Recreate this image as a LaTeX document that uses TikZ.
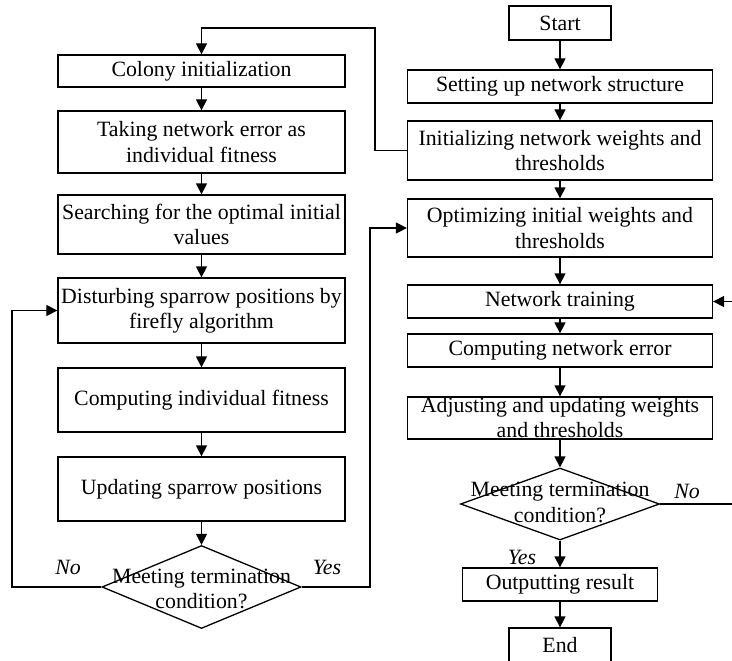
\documentclass[tikz,border=0pt]{standalone}
\usepackage{fontspec}
\setmainfont{Liberation Serif}
\usetikzlibrary{arrows.meta,shapes.geometric}
\newcommand\myfs{\fontsize{21.9}{25.5}\selectfont}
\tikzset{
  box/.style={draw, line width=1.3bp, inner sep=0pt, align=center, font=\myfs, minimum width=305bp, minimum height=33bp},
  lbox/.style={box, minimum width=287bp},
  dec/.style={draw, diamond, line width=1.3bp, inner sep=0pt},
  txt/.style={inner sep=0pt, align=center, font=\myfs},
  lbl/.style={inner sep=0pt, font=\myfs\itshape},
  ln/.style={line width=1.3bp},
  arr/.style={line width=1.3bp, -{Triangle[length=11bp,width=11bp]}},
}
\begin{document}
\begin{tikzpicture}[x=1bp,y=-1bp]
\useasboundingbox (0,0) rectangle (732,661);
% left column
\node[lbox, minimum height=32bp] (col) at (201.5,71) {Colony initialization};
\node[lbox, minimum height=62bp] (take) at (201.5,142) {Taking network error as\\individual fitness};
\node[lbox, minimum height=59bp] (search) at (201.5,224.5) {Searching for the optimal initial\\values};
\node[lbox, minimum height=65bp] (disturb) at (201.5,310.5) {Disturbing sparrow positions by\\firefly algorithm};
\node[lbox, minimum height=64bp] (compind) at (201.5,400) {Computing individual fitness};
\node[lbox, minimum height=64bp] (update) at (201.5,489) {Updating sparrow positions};
\node[dec, minimum width=199bp, minimum height=83bp] (decL) at (201.5,587) {};
\node[txt] (decLt) at (201.5,589) {Meeting termination\\condition?};
% right column
\node[box, minimum width=102bp, minimum height=34bp] (start) at (560,23) {Start};
\node[box] (setup) at (560,86.5) {Setting up network structure};
\node[box, minimum height=59bp] (init) at (560,150.5) {Initializing network weights and\\thresholds};
\node[box, minimum height=58bp] (opt) at (560,228) {Optimizing initial weights and\\thresholds};
\node[box] (train) at (560,301.5) {Network training};
\node[box] (comperr) at (560,350.5) {Computing network error};
\node[box, minimum height=42bp] (adjust) at (560,418) {};
\node[txt] (adjustt) at (560,417.5) {Adjusting and updating weights\\and thresholds};
\node[dec, minimum width=199bp, minimum height=72bp] (decR) at (560,504) {};
\node[txt] (decRt) at (560,502.5) {Meeting termination\\condition?};
\node[box, minimum width=195bp] (output) at (560,584.5) {Outputting result};
\node[box, minimum width=102bp, minimum height=34bp] (end) at (560,645) {End};
% labels
\node[lbl] (noL) at (68,567) {No};
\node[lbl] (yesL) at (327,567) {Yes};
\node[lbl] (noR) at (687,491) {No};
\node[lbl] (yesR) at (522,557) {Yes};
% coordinates
\coordinate (tl) at (375,28);
\coordinate (nl) at (12,587);
\coordinate (yl) at (370,587);
\coordinate (edgeR) at (733,504);
\coordinate (edgeT) at (733,301.5);
% left arrows
\draw[arr] (col) -- (take);
\draw[arr] (take) -- (search);
\draw[arr] (search) -- (disturb);
\draw[arr] (disturb) -- (compind);
\draw[arr] (compind) -- (update);
\draw[arr] (update) -- (decL.north);
\draw[arr] (decL.west) -- (nl) |- (disturb.west);
\draw[arr] (decL.east) -- (yl) |- (opt.west);
% right arrows
\draw[arr] (start) -- (setup);
\draw[arr] (setup) -- (init);
\draw[arr] (init) -- (opt);
\draw[arr] (opt) -- (train);
\draw[arr] (train) -- (comperr);
\draw[arr] (comperr) -- (adjust);
\draw[arr] (adjust) -- (decR.north);
\draw[arr] (decR.south) -- (output);
\draw[arr] (output) -- (end);
\draw[arr] (init.west) -| (tl) -| (col.north);
\draw[ln] (decR.east) -- (edgeR);
\draw[arr] (edgeT) -- (train.east);
\end{tikzpicture}
\end{document}
